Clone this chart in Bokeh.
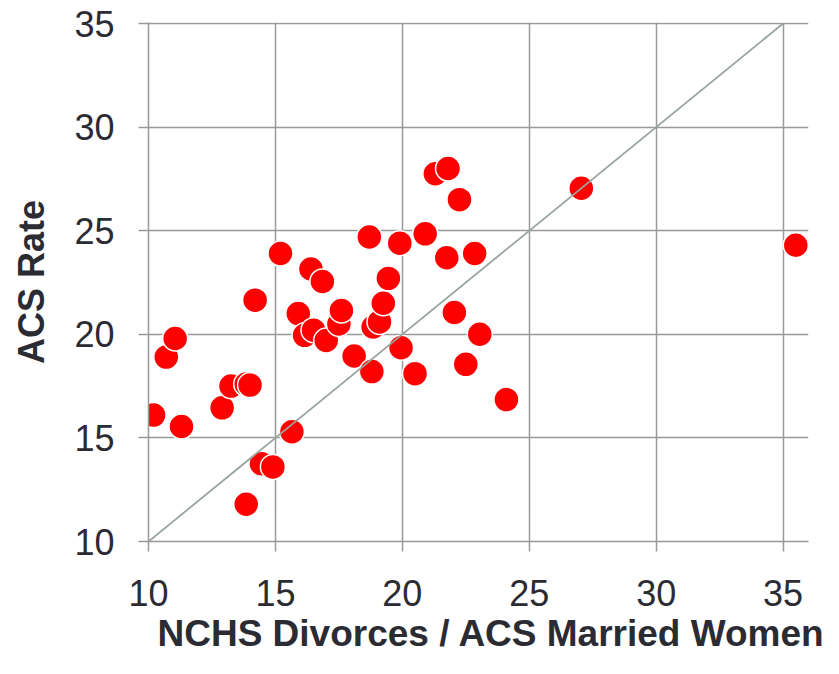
from bokeh.plotting import figure
from bokeh.models import Range1d, FixedTicker, Title
from bokeh.embed import file_html
from bokeh.resources import INLINE

# Data
nchs_rate = [10.2, 10.7, 11.05, 11.3, 12.9, 13.25, 13.85, 14.0, 13.85, 14.45, 14.9,
             15.65, 15.2, 14.2, 16.4, 16.85, 15.9, 16.15, 16.5, 17.0, 17.5, 17.6,
             18.1, 18.8, 18.85, 19.1, 19.25, 19.45, 18.7, 19.9, 20.9, 19.95, 20.5,
             21.3, 21.8, 22.25, 21.75, 22.85, 22.05, 23.05, 22.5, 24.1, 27.05, 35.5]
acs_rate = [16.1, 18.9, 19.8, 15.55, 16.45, 17.5, 17.6, 17.55, 11.8, 13.75, 13.6,
            15.3, 23.9, 21.65, 23.15, 22.55, 21.0, 19.95, 20.2, 19.7, 20.5, 21.15,
            18.95, 18.2, 20.35, 20.6, 21.5, 22.7, 24.7, 24.4, 24.85, 19.35, 18.1,
            27.75, 28.0, 26.5, 23.7, 23.9, 21.05, 20.0, 18.55, 16.85, 27.05, 24.3]
ref_line = [10, 35]
ticks = [10, 15, 20, 25, 30, 35]
x_title = "NCHS Divorces / ACS Married Women"
y_title = "ACS Rate"

GRID = "#999999"
TEXT = "#2b2b33"
FONT = "Liberation Sans"

p = figure(frame_width=660, frame_height=519, min_border_left=148, min_border_top=22,
           min_border_right=15, min_border_bottom=10,
           x_range=Range1d(10, 36), y_range=Range1d(10, 35.05),
           output_backend="svg", toolbar_location=None)
p.outline_line_color = None
p.background_fill_color = "white"
p.border_fill_color = "white"

for ax in (p.xaxis[0], p.yaxis[0]):
    ax.ticker = FixedTicker(ticks=ticks)
    ax.minor_tick_line_color = None
    ax.major_tick_out = 10
    ax.major_tick_in = 0
    ax.major_tick_line_color = GRID
    ax.major_tick_line_width = 1.5
    ax.axis_line_color = GRID
    ax.axis_line_width = 1.5
    ax.major_label_text_font = FONT
    ax.major_label_text_font_size = "36px"
    ax.major_label_text_color = TEXT
    ax.axis_label_text_font = FONT
    ax.axis_label_text_font_size = "36px"
    ax.axis_label_text_font_style = "bold"
    ax.axis_label_text_color = TEXT

p.xaxis.major_label_standoff = 28
p.yaxis.major_label_standoff = 24
p.yaxis.axis_label = y_title
p.yaxis.axis_label_standoff = 19

p.grid.grid_line_color = GRID
p.grid.grid_line_width = 1.5
p.xgrid.ticker = FixedTicker(ticks=ticks)
p.ygrid.ticker = FixedTicker(ticks=ticks)

p.scatter(nchs_rate, acs_rate, size=25, fill_color="#ff0000", line_color="white",
          line_width=1.5)
p.line(ref_line, ref_line, line_color="#98a59c", line_width=1.8)

p.add_layout(Title(text=x_title, align="left", offset=9, standoff=4,
                   text_font=FONT, text_font_size="37px", text_font_style="bold",
                   text_color=TEXT), "below")

open("out.html", "w").write(file_html(p, INLINE))
